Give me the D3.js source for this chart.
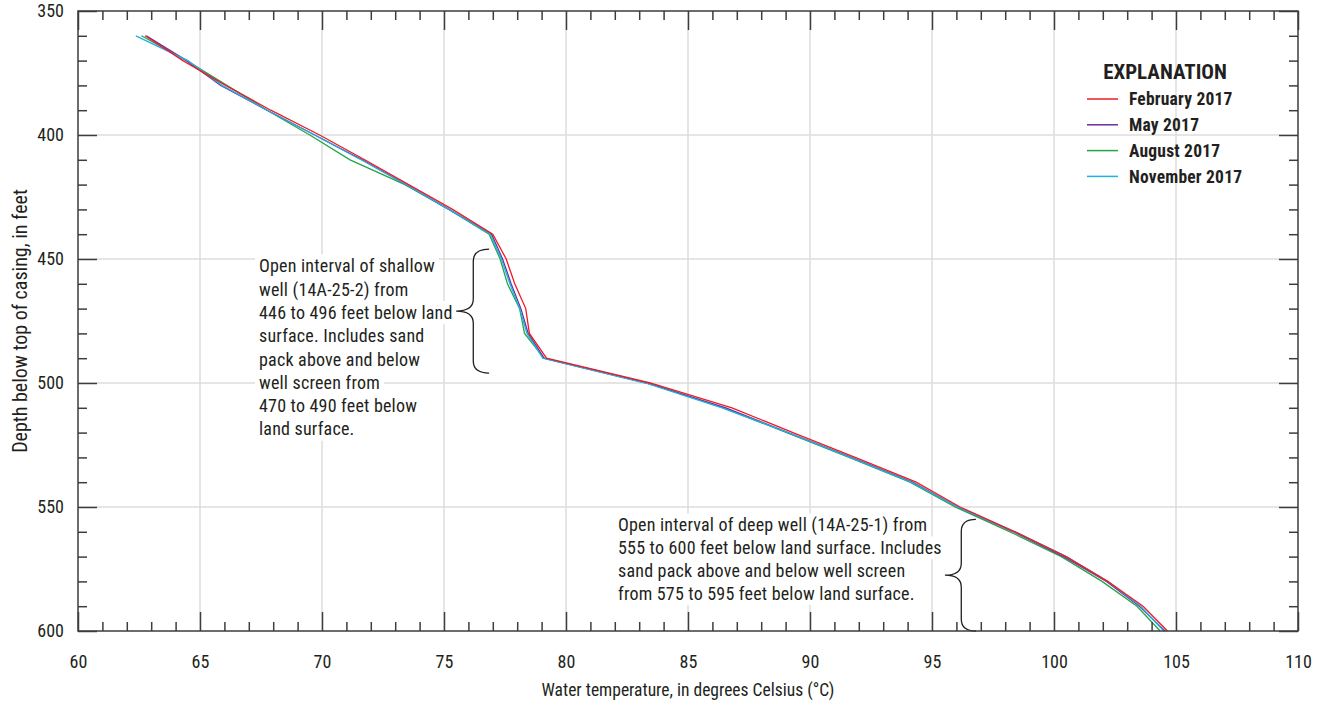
<!DOCTYPE html>
<html>
<head>
<meta charset="utf-8">
<script src="https://cdn.jsdelivr.net/npm/d3@7"></script>
<style>
  body { margin: 0; background: #fff; }
  svg { display: block; }
  text { font-family: "Liberation Sans Narrow", "Roboto Condensed", Roboto, sans-serif; fill: #231f20; }
</style>
</head>
<body>
<div id="chart"></div>
<script>
var depths = [360, 370, 380, 390, 400, 410, 420, 430, 440, 450, 460, 470, 480, 490, 500, 510, 520, 530, 540, 550, 560, 570, 580, 590, 600];

var feb2017 = [62.75, 64.3, 66.05, 67.9, 69.9, 71.75, 73.55, 75.35, 77.0, 77.55, 77.9, 78.35, 78.5, 79.2, 83.45, 86.8, 89.3, 91.85, 94.35, 96.15, 98.4, 100.5, 102.2, 103.65, 104.65];
var may2017 = [62.8, 64.45, 65.85, 67.75, 69.7, 71.65, 73.45, 75.2, 76.95, 77.4, 77.75, 78.15, 78.45, 79.1, 83.3, 86.55, 89.1, 91.7, 94.2, 96.05, 98.35, 100.4, 102.15, 103.5, 104.55];
var aug2017 = [62.6, 64.45, 66.1, 67.75, 69.5, 71.15, 73.4, 75.2, 76.85, 77.3, 77.6, 78.1, 78.3, 79.1, 83.35, 86.45, 89.05, 91.6, 94.1, 95.95, 98.2, 100.3, 101.97, 103.4, 104.35];
var nov2017 = [62.37, 64.5, 65.9, 67.75, 69.7, 71.6, 73.45, 75.2, 76.9, 77.35, 77.7, 78.1, 78.4, 79.05, 83.25, 86.4, 89.1, 91.65, 94.15, 96.05, 98.4, 100.5, 102.2, 103.55, 104.5];

var seriesNames = ["February 2017", "May 2017", "August 2017", "November 2017"];
var seriesColors = ["#ed1c24", "#6d2f9c", "#26a547", "#1fb0e6"];

var shallowInterval = [446, 496];
var deepInterval = [555, 600];

var shallowNote = ["Open interval of shallow", "well (14A-25-2) from", "446 to 496 feet below land",
  "surface. Includes sand", "pack above and below", "well screen from", "470 to 490 feet below", "land surface."];
var deepNote = ["Open interval of deep well (14A-25-1) from", "555 to 600 feet below land surface. Includes",
  "sand pack above and below well screen", "from 575 to 595 feet below land surface."];

var W = 1322, H = 708;
var pLeft = 78, pTop = 11, pRight = 1298, pBottom = 631;

var svg = d3.select("#chart").append("svg")
	.attr("width", W)
	.attr("height", H);

var x = d3.scaleLinear().domain([60, 110]).range([pLeft, pRight]);
var y = d3.scaleLinear().domain([350, 600]).range([pTop, pBottom]);

// gridlines
svg.append("g").selectAll("line")
	.data(d3.range(65, 110, 5))
	.enter().append("line")
	.attr("x1", function(d) { return x(d); })
	.attr("x2", function(d) { return x(d); })
	.attr("y1", pTop).attr("y2", pBottom)
	.style("stroke", "#dcdcdc").style("stroke-width", 1.5);

svg.append("g").selectAll("line")
	.data(d3.range(400, 600, 50))
	.enter().append("line")
	.attr("x1", pLeft).attr("x2", pRight)
	.attr("y1", function(d) { return y(d); })
	.attr("y2", function(d) { return y(d); })
	.style("stroke", "#dcdcdc").style("stroke-width", 1.5);

// annotations (text with white knockout)
function noteBlock(lines, x0, y0, step)
{
	var g = svg.append("g");
	lines.forEach(function(s, i) {
		var t = g.append("text")
			.attr("x", x0)
			.attr("y", y0 + i * step)
			.attr("dy", "0.35em")
			.style("font-size", "18px")
			.style("letter-spacing", "0.2px")
			.text(s);
		var w = t.node().getComputedTextLength();
		g.insert("rect", "text")
			.attr("x", x0 - 4)
			.attr("y", y0 + i * step - step / 2)
			.attr("width", w + 8)
			.attr("height", step)
			.style("fill", "#fff");
	});
}
noteBlock(shallowNote, 259, 266, 23.3);
noteBlock(deepNote, 618, 525, 22.8);

// braces
function brace(yTop, yBot, xTip, xSpine, xEnd)
{
	var y0 = y(yTop), y1 = y(yBot), ym = (y0 + y1) / 2, r = 12;
	var p = "M" + xEnd + "," + y0 +
		" Q" + xSpine + "," + y0 + " " + xSpine + "," + (y0 + r) +
		" L" + xSpine + "," + (ym - r) +
		" Q" + xSpine + "," + ym + " " + xTip + "," + ym +
		" Q" + xSpine + "," + ym + " " + xSpine + "," + (ym + r) +
		" L" + xSpine + "," + (y1 - r) +
		" Q" + xSpine + "," + y1 + " " + xEnd + "," + y1;
	svg.append("path")
		.attr("d", p)
		.style("fill", "none")
		.style("stroke", "#231f20")
		.style("stroke-width", 1.3);
}
brace(shallowInterval[0], shallowInterval[1], x(75.5), x(76.2), x(76.85));
brace(deepInterval[0], deepInterval[1], x(95.53), x(96.2), x(96.8));

// temperature profiles
var profiles = [feb2017, may2017, aug2017, nov2017];
var line = d3.line()
	.x(function(d) { return x(d[0]); })
	.y(function(d) { return y(d[1]); });

var drawOrder = [2, 1, 3, 0];
svg.append("g").selectAll("path")
	.data(drawOrder)
	.enter().append("path")
	.attr("d", function(k) { return line(profiles[k].map(function(v, i) { return [v, depths[i]]; })); })
	.style("fill", "none")
	.style("stroke", function(k) { return seriesColors[k]; })
	.style("stroke-width", 1.3);

// ticks, inward on all four sides
var tickColor = "#3d3d3d";
function ticks(axisFn, scale, pos, vals, len, labels)
{
	var a = axisFn(scale).tickValues(vals).tickSizeInner(-len).tickSizeOuter(0);
	if (!labels) a.tickFormat("");
	var g = svg.append("g").attr("transform", pos).call(a);
	g.select(".domain").remove();
	g.selectAll(".tick line").style("stroke", tickColor).style("stroke-width", 1.5);
	return g;
}
var xMinor = d3.range(61, 110, 1).filter(function(d) { return d % 5 !== 0; });
var xMajor = d3.range(60, 111, 5);
var yMinor = d3.range(360, 600, 10).filter(function(d) { return d % 50 !== 0; });
var yMajor = d3.range(350, 601, 50);

ticks(d3.axisBottom, x, "translate(0," + pBottom + ")", xMinor, 9, false);
ticks(d3.axisTop, x, "translate(0," + pTop + ")", xMinor, 9, false);
ticks(d3.axisTop, x, "translate(0," + pTop + ")", xMajor, 19, false);
var xb = ticks(d3.axisBottom, x, "translate(0," + pBottom + ")", xMajor, 19, true);
xb.selectAll(".tick text").attr("y", 31).attr("dy", "0.35em").style("font-size", "18px").style("font-family", null);

ticks(d3.axisLeft, y, "translate(" + pLeft + ",0)", yMinor, 9, false);
ticks(d3.axisRight, y, "translate(" + pRight + ",0)", yMinor, 9, false);
ticks(d3.axisRight, y, "translate(" + pRight + ",0)", yMajor, 19, false);
var yl = ticks(d3.axisLeft, y, "translate(" + pLeft + ",0)", yMajor, 19, true);
yl.selectAll(".tick text").attr("x", -14).style("font-size", "18px").style("font-family", null);
svg.selectAll(".tick text").style("fill", "#231f20");

// frame
svg.append("rect")
	.attr("x", pLeft).attr("y", pTop)
	.attr("width", pRight - pLeft).attr("height", pBottom - pTop)
	.style("fill", "none")
	.style("stroke", tickColor)
	.style("stroke-width", 1.5);

// axis titles
svg.append("text")
	.attr("x", 688)
	.attr("y", 690)
	.attr("text-anchor", "middle")
	.attr("dy", "0.35em")
	.style("font-size", "17.5px")
	.text("Water temperature, in degrees Celsius (\u00B0C)");

svg.append("text")
	.attr("transform", "translate(20,321) rotate(-90)")
	.attr("text-anchor", "middle")
	.attr("dy", "0.35em")
	.style("font-size", "20px")
	.text("Depth below top of casing, in feet");

// legend
var leg = svg.append("g");
leg.append("text")
	.attr("x", 1165).attr("y", 72)
	.attr("dy", "0.35em")
	.attr("text-anchor", "middle")
	.style("font-size", "21px")
	.style("font-weight", "bold")
	.text("EXPLANATION");

var item = leg.selectAll("g.item")
	.data(seriesNames)
	.enter().append("g")
	.attr("class", "item")
	.attr("transform", function(d, i) { return "translate(0," + (99 + i * 25.8) + ")"; });
item.append("line")
	.attr("x1", 1087).attr("x2", 1118)
	.style("stroke", function(d, i) { return seriesColors[i]; })
	.style("stroke-width", 1.5);
item.append("text")
	.attr("x", 1129)
	.attr("dy", "0.35em")
	.style("font-size", "17.5px")
	.style("font-weight", "bold")
	.style("letter-spacing", "0.2px")
	.text(function(d) { return d; });
</script>
</body>
</html>
